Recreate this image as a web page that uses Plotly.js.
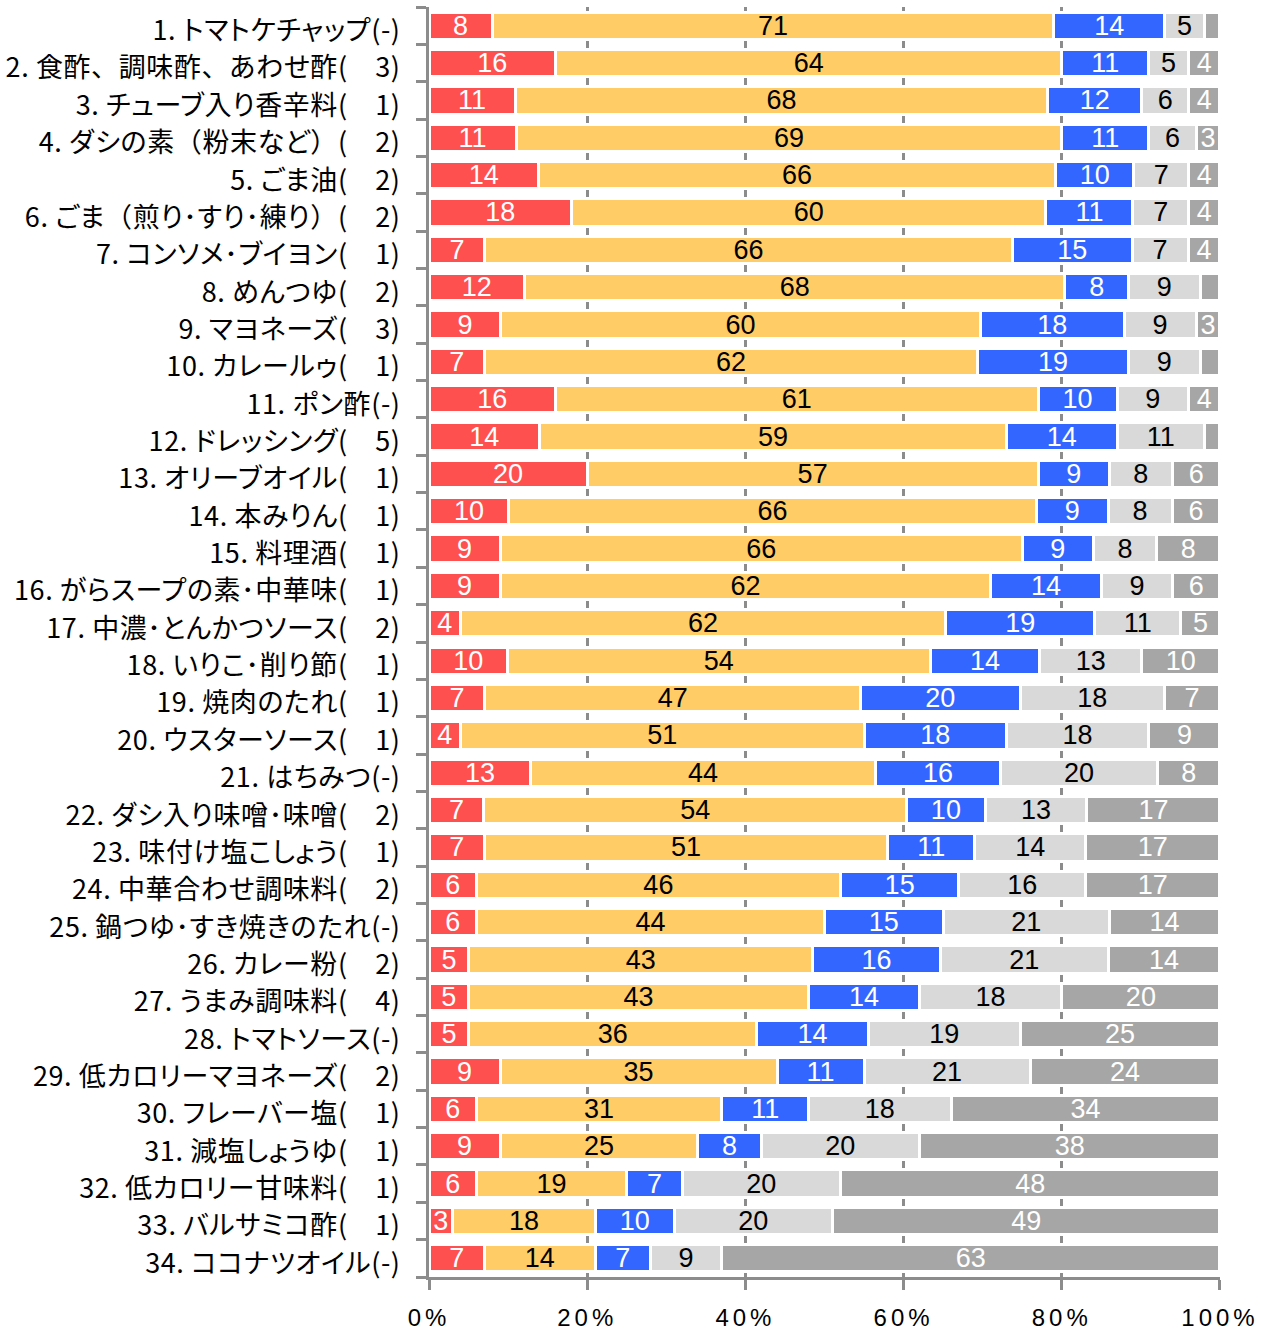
<!DOCTYPE html>
<html>
<head>
<meta charset="utf-8">
<script src="https://cdn.plot.ly/plotly-3.0.1.min.js"></script>
<style>
  html, body { margin: 0; padding: 0; background: #fff; }
  #chart { width: 1271px; height: 1333px; }
  .xtick text { letter-spacing: 4px; }
  .ytick text { font-feature-settings: "palt" 1; letter-spacing: 0.6px; }
</style>
</head>
<body>
<div id="chart"></div>
<script>
const categories = [
  "1. トマトケチャップ(-)",
  "2. 食酢、調味酢、あわせ酢(　3)",
  "3. チューブ入り香辛料(　1)",
  "4. ダシの素（粉末など）(　2)",
  "5. ごま油(　2)",
  "6. ごま（煎り･すり･練り）(　2)",
  "7. コンソメ･ブイヨン(　1)",
  "8. めんつゆ(　2)",
  "9. マヨネーズ(　3)",
  "10. カレールゥ(　1)",
  "11. ポン酢(-)",
  "12. ドレッシング(　5)",
  "13. オリーブオイル(　1)",
  "14. 本みりん(　1)",
  "15. 料理酒(　1)",
  "16. がらスープの素･中華味(　1)",
  "17. 中濃･とんかつソース(　2)",
  "18. いりこ･削り節(　1)",
  "19. 焼肉のたれ(　1)",
  "20. ウスターソース(　1)",
  "21. はちみつ(-)",
  "22. ダシ入り味噌･味噌(　2)",
  "23. 味付け塩こしょう(　1)",
  "24. 中華合わせ調味料(　2)",
  "25. 鍋つゆ･すき焼きのたれ(-)",
  "26. カレー粉(　2)",
  "27. うまみ調味料(　4)",
  "28. トマトソース(-)",
  "29. 低カロリーマヨネーズ(　2)",
  "30. フレーバー塩(　1)",
  "31. 減塩しょうゆ(　1)",
  "32. 低カロリー甘味料(　1)",
  "33. バルサミコ酢(　1)",
  "34. ココナツオイル(-)"
];

const series1 = [8,16,11,11,14,18,7,12,9,7,16,14,20,10,9,9,4,10,7,4,13,7,7,6,6,5,5,5,9,6,9,6,3,7];
const series2 = [71,64,68,69,66,60,66,68,60,62,61,59,57,66,66,62,62,54,47,51,44,54,51,46,44,43,43,36,35,31,25,19,18,14];
const series3 = [14,11,12,11,10,11,15,8,18,19,10,14,9,9,9,14,19,14,20,18,16,10,11,15,15,16,14,14,11,11,8,7,10,7];
const series4 = [5,5,6,6,7,7,7,9,9,9,9,11,8,8,8,9,11,13,18,18,20,13,14,16,21,21,18,19,21,18,20,20,20,9];
const series5 = [2,4,4,3,4,4,4,2.5,3,2.5,4,2,6,6,8,6,5,10,7,9,8,17,17,17,14,14,20,25,24,34,38,48,49,63];

const seriesNames = ["区分1", "区分2", "区分3", "区分4", "区分5"];
const seriesColors = ["#FF5050", "#FFCC66", "#3366FF", "#D9D9D9", "#A6A6A6"];
const textColors = ["#FFFFFF", "#000000", "#FFFFFF", "#000000", "#FFFFFF"];
const allSeries = [series1, series2, series3, series4, series5];

// keep full-width punctuation at full width (no proportional metrics)
const fullWidthPunct = /([、（）])/g;
const tickLabels = categories.map(c =>
  c.replace(fullWidthPunct, '<span style="font-feature-settings:normal">$1</span>')
);

const traces = allSeries.map((vals, i) => ({
  type: "bar",
  orientation: "h",
  name: seriesNames[i],
  y: categories,
  x: vals,
  text: vals.map(v => (v >= 3 ? String(Math.round(v)) : "")),
  textposition: "inside",
  insidetextanchor: "middle",
  textangle: 0,
  constraintext: "none",
  textfont: { family: "Liberation Sans, Arial, sans-serif", size: 27, color: textColors[i] },
  marker: { color: seriesColors[i], line: { color: "#FFFFFF", width: 3 } },
  hoverinfo: "skip",
  cliponaxis: false
}));

const layout = {
  width: 1271,
  height: 1333,
  barmode: "stack",
  barnorm: "percent",
  bargap: 0.27,
  showlegend: false,
  paper_bgcolor: "#FFFFFF",
  plot_bgcolor: "#FFFFFF",
  margin: { l: 429, r: 51, t: 7, b: 56, pad: 0 },
  font: { family: "Noto Sans CJK JP, sans-serif", color: "#000000" },
  xaxis: {
    range: [0, 100.001],
    tickvals: [0, 20, 40, 60, 80, 100],
    ticktext: ["0%", "20%", "40%", "60%", "80%", "100%"],
    showgrid: true,
    gridcolor: "#8C8C8C",
    gridwidth: 3,
    zeroline: false,
    showline: true,
    linecolor: "#8C8C8C",
    linewidth: 3,
    ticks: "outside",
    ticklen: 10,
    tickwidth: 3,
    tickcolor: "#8C8C8C",
    ticklabelstandoff: 7,
    tickfont: { family: "Liberation Sans, Arial, sans-serif", size: 24, color: "#000000" },
    fixedrange: true
  },
  yaxis: {
    type: "category",
    autorange: "reversed",
    tickmode: "array",
    tickvals: categories,
    ticktext: tickLabels,
    showgrid: false,
    zeroline: false,
    showline: true,
    linecolor: "#8C8C8C",
    linewidth: 3,
    ticks: "outside",
    tickson: "boundaries",
    ticklen: 10,
    tickwidth: 3,
    tickcolor: "#8C8C8C",
    ticklabelstandoff: 20,
    ticklabelshift: -5,
    tickfont: { family: "Noto Sans CJK JP, sans-serif", size: 27, color: "#000000" },
    fixedrange: true
  }
};

Plotly.newPlot("chart", traces, layout, { displayModeBar: false, staticPlot: true });
</script>
</body>
</html>
